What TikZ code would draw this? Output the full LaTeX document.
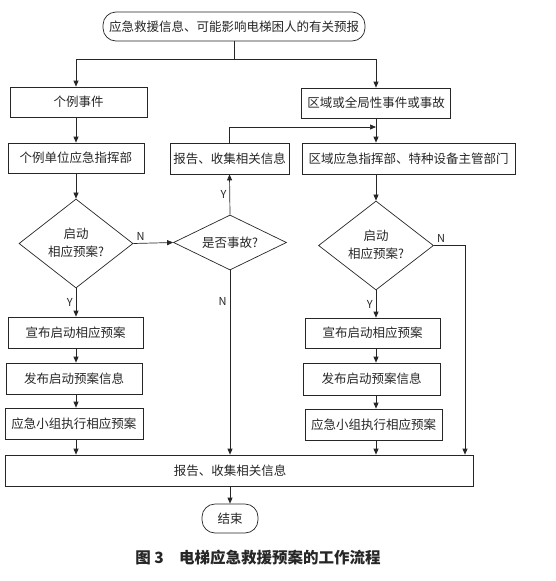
\documentclass[tikz,border=0pt]{standalone}
\usepackage{fontspec}
\setmainfont{Noto Sans CJK SC}
\usetikzlibrary{shapes.geometric,arrows.meta}
\begin{document}
\begin{tikzpicture}[x=1pt, y=-1pt, line width=.7pt, color=black!85,
  every node/.style={font=\fontsize{12.5}{15}\selectfont},
  box/.style={draw, rectangle, inner sep=0pt, minimum height=30pt},
  term/.style={draw, rectangle, rounded corners=13pt, inner sep=0pt},
  ask/.style={draw, diamond, inner sep=0pt, align=center},
  yn/.style={font=\fontsize{11}{13}\selectfont, inner sep=3pt},
  arr/.style={-{Triangle[length=6pt,width=5pt]}}]
  \useasboundingbox (0,0) rectangle (556,581);
  \node[term, minimum width=262pt, minimum height=29pt] (start) at (234,26.5) {应急救援信息、可能影响电梯困人的有关预报};
  \coordinate (split) at (234,59);
  \node[box, minimum width=137pt] (ev1) at (78.5,102) {个例事件};
  \node[box, minimum width=149pt] (ev2) at (376,103) {区域或全局性事件或事故};
  \node[box, minimum width=136pt] (cmd1) at (76,158) {个例单位应急指挥部};
  \node[box, minimum width=119pt, minimum height=31pt] (rep1) at (229.5,158.5) {报告、收集相关信息};
  \node[box, minimum width=213pt, minimum height=31pt] (cmd2) at (408.5,158.5) {区域应急指挥部、特种设备主管部门};
  \node[ask, aspect=1.3, minimum width=114pt, minimum height=89pt, text depth=2pt] (d1) at (76,243.5) {启动\\[3pt]相应预案?};
  \node[ask, aspect=2, minimum width=113pt, minimum height=55pt] (d2) at (230,242.5) {是否事故?};
  \node[ask, aspect=1.3, minimum width=115pt, minimum height=89pt, text depth=2pt] (d3) at (376,245.5) {启动\\[3pt]相应预案?};
  \coordinate (join) at (376,127);
  \coordinate (byp) at (465,245.5);
  \node[box, minimum width=135pt, minimum height=31pt] (a1) at (75.5,332.5) {宣布启动相应预案};
  \node[box, minimum width=135pt] (a2) at (372.5,333) {宣布启动相应预案};
  \node[box, minimum width=136pt, minimum height=31pt] (b1) at (74,378.5) {发布启动预案信息};
  \node[box, minimum width=137pt, minimum height=32pt] (b2) at (371.5,379) {发布启动预案信息};
  \node[box, minimum width=138pt, minimum height=31pt] (c1) at (74,423.5) {应急小组执行相应预案};
  \node[box, minimum width=137pt, minimum height=31pt] (c2) at (373.5,424.5) {应急小组执行相应预案};
  \node[box, minimum width=468pt, minimum height=31pt] (big) at (239,470.5) {};
  \node[inner sep=0pt] (bigtxt) at (big.center -| d2) {报告、收集相关信息};
  \node[term, minimum width=56pt, minimum height=29pt] (stop) at (230,518.5) {结束};
  \node[font=\fontsize{15.5}{18}\selectfont\bfseries] (cap) at (258,558) {图 3\hspace{1em}电梯应急救援预案的工作流程};
  \draw (start) -- (split);
  \draw[arr] (split) -| (ev1.north -| d1);
  \draw[arr] (split) -| (ev2);
  \draw[arr] (ev1.south -| d1) -- (cmd1.north -| d1);
  \draw[arr] (cmd1.south -| d1) -- (d1);
  \draw[arr] (d1) -- node[yn, left] (y1) {Y} (a1.north -| d1);
  \draw[arr] (a1.south -| d1) -- (b1.north -| d1);
  \draw[arr] (b1.south -| d1) -- (c1.north -| d1);
  \draw[arr] (c1.south -| d1) -- (big.north -| d1);
  \draw[arr] (d1.east) -- node[yn, pos=0, above right] (n1) {N} (d2.west);
  \draw[arr] (d2.north) -- node[yn, left] (y2) {Y} (rep1.south);
  \draw[arr] (rep1.north) |- (join);
  \draw[arr] (d2.south) -- node[yn, pos=.17, left] (n2) {N} (big.north -| d2);
  \draw[arr] (ev2) -- (cmd2.north -| ev2);
  \draw[arr] (cmd2.south -| d3) -- (d3);
  \draw[arr] (d3) -- node[yn, left] (y3) {Y} (a2.north -| d3);
  \draw[arr] (a2.south -| d3) -- (b2.north -| d3);
  \draw[arr] (b2.south -| d3) -- (c2.north -| d3);
  \draw[arr] (c2.south -| d3) -- (big.north -| d3);
  \draw[arr] (d3.east) -- node[yn, pos=0, above right] (n3) {N} (byp) -- (big.north -| byp);
  \draw[arr] (big.south -| stop) -- (stop);
\end{tikzpicture}
\end{document}
